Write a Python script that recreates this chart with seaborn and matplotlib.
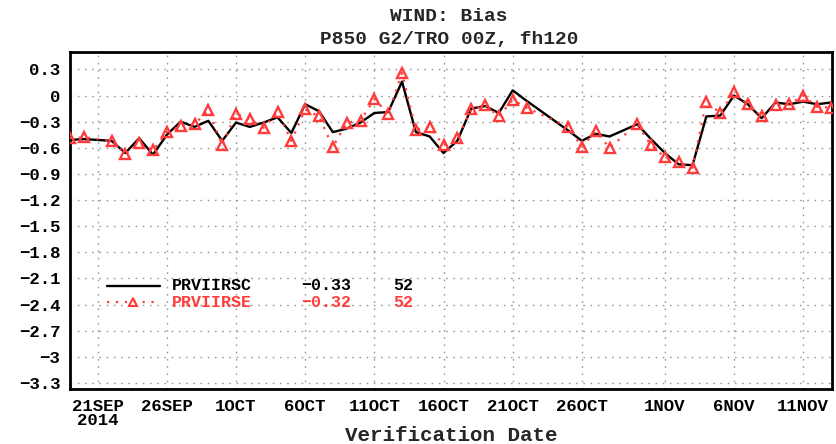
import matplotlib
matplotlib.use("Agg")
import matplotlib.pyplot as plt
from matplotlib.lines import Line2D
import pandas as pd
import seaborn as sns

# Verification dates (days with missing forecasts are skipped)
dates = [
    "2014-09-19", "2014-09-20", "2014-09-22", "2014-09-23", "2014-09-24",
    "2014-09-25", "2014-09-26", "2014-09-27", "2014-09-28", "2014-09-29",
    "2014-09-30", "2014-10-01", "2014-10-02", "2014-10-03", "2014-10-04",
    "2014-10-05", "2014-10-06", "2014-10-07", "2014-10-08", "2014-10-09",
    "2014-10-10", "2014-10-11", "2014-10-12", "2014-10-13", "2014-10-14",
    "2014-10-15", "2014-10-16", "2014-10-17", "2014-10-18", "2014-10-19",
    "2014-10-20", "2014-10-21", "2014-10-22", "2014-10-25", "2014-10-26",
    "2014-10-27", "2014-10-28", "2014-10-30", "2014-10-31", "2014-11-01",
    "2014-11-02", "2014-11-03", "2014-11-04", "2014-11-05", "2014-11-06",
    "2014-11-07", "2014-11-08", "2014-11-09", "2014-11-10", "2014-11-11",
    "2014-11-12", "2014-11-13",
]

# Wind bias at 850 hPa, tropics, fh120
bias_prviirsc = [
    -0.51, -0.50, -0.52, -0.66, -0.49, -0.68, -0.45, -0.30, -0.36, -0.29,
    -0.52, -0.31, -0.36, -0.31, -0.25, -0.43, -0.10, -0.18, -0.42, -0.38,
    -0.31, -0.20, -0.19, 0.16, -0.42, -0.47, -0.66, -0.52, -0.15, -0.12,
    -0.20, 0.06, -0.06, -0.40, -0.52, -0.44, -0.47, -0.33, -0.50, -0.66,
    -0.79, -0.80, -0.24, -0.23, 0.00, -0.10, -0.26, -0.08, -0.10, -0.07,
    -0.10, -0.08,
]
bias_prviirse = [
    -0.49, -0.48, -0.52, -0.67, -0.55, -0.63, -0.42, -0.35, -0.33, -0.17,
    -0.57, -0.21, -0.27, -0.37, -0.19, -0.52, -0.16, -0.24, -0.59, -0.31,
    -0.29, -0.04, -0.21, 0.26, -0.39, -0.36, -0.57, -0.49, -0.16, -0.11,
    -0.24, -0.05, -0.14, -0.36, -0.59, -0.41, -0.60, -0.33, -0.57, -0.71,
    -0.76, -0.83, -0.07, -0.20, 0.04, -0.10, -0.24, -0.11, -0.10, 0.00,
    -0.13, -0.14,
]

series_names = ["PRVIIRSC", "PRVIIRSE"]
series_means = [-0.33, -0.32]

tick_dates = ["2014-09-21", "2014-09-26", "2014-10-01", "2014-10-06",
              "2014-10-11", "2014-10-16", "2014-10-21", "2014-10-26",
              "2014-11-01", "2014-11-06", "2014-11-11"]
tick_labels = ["21SEP\n2014", "26SEP", "1OCT", "6OCT", "11OCT", "16OCT",
               "21OCT", "26OCT", "1NOV", "6NOV", "11NOV"]
y_ticks = [0.3, 0.0, -0.3, -0.6, -0.9, -1.2, -1.5, -1.8, -2.1, -2.4,
           -2.7, -3.0, -3.3]

RED = "#ff3b3b"
FONT = ["Liberation Mono", "DejaVu Sans Mono"]

sns.set_style("white")
plt.rcParams["font.family"] = FONT
plt.rcParams["font.weight"] = "bold"

df = pd.DataFrame({
    "date": pd.to_datetime(dates),
    "PRVIIRSC": bias_prviirsc,
    "PRVIIRSE": bias_prviirse,
})

fig = plt.figure(figsize=(8.36, 4.44), dpi=100)
ax = fig.add_axes([70 / 836, 1 - 389 / 444, 762 / 836, 337 / 444])

sns.lineplot(data=df, x="date", y="PRVIIRSC", ax=ax, color="black",
             linewidth=1.7, zorder=3)
sns.lineplot(data=df, x="date", y="PRVIIRSE", ax=ax, color=RED,
             linewidth=1.6, linestyle=(0, (1, 3)), marker="^",
             markersize=7, markerfacecolor="none", markeredgecolor=RED,
             markeredgewidth=1.7, zorder=4)

ax.set_xlim(pd.Timestamp("2014-09-19"), pd.Timestamp("2014-11-13 02:00"))
ax.set_ylim(-3.37, 0.5)

ax.set_yticks(y_ticks)
ax.set_yticklabels([f"{round(v, 1):g}".replace("-", "\u2212") for v in y_ticks])
ax.set_xticks(pd.to_datetime(tick_dates))
ax.set_xticklabels(tick_labels, linespacing=0.9)

ax.tick_params(axis="both", direction="out", length=5, width=1.2,
               colors="black", labelsize=12.5, pad=2)
ax.tick_params(axis="x", pad=2)
for lab in ax.get_xticklabels() + ax.get_yticklabels():
    lab.set_fontweight("bold")

ax.grid(True, color="#9a9a9a", linestyle=(0, (1.2, 4)), linewidth=1.0)
for sp in ax.spines.values():
    sp.set_linewidth(2)
    sp.set_color("black")

ax.set_xlabel("")
ax.set_ylabel("")
fig.text(0.54, 1 - 435 / 444, "Verification Date", ha="center", va="center",
         fontsize=15, fontweight="bold")

fig.text(0.537, 0.962, "WIND: Bias", ha="center", va="center",
         fontsize=14, fontweight="bold")
fig.text(0.537, 0.91, "P850 G2/TRO 00Z, fh120", ha="center", va="center",
         fontsize=14, fontweight="bold")

# Legend block with summary statistics
counts = [df[n].notna().sum() for n in series_names]
row_y = [0.306, 0.258]
colors = ["black", RED]
ax.add_line(Line2D([0.049, 0.118], [row_y[0], row_y[0]], transform=ax.transAxes,
                   color="black", linewidth=1.7))
ax.add_line(Line2D([0.049, 0.118], [row_y[1], row_y[1]], transform=ax.transAxes,
                   color=RED, linewidth=1.6, linestyle=(0, (1, 3))))
ax.add_line(Line2D([0.083], [row_y[1]], transform=ax.transAxes, marker="^",
                   markersize=6, markerfacecolor="none", markeredgecolor=RED,
                   markeredgewidth=1.5, linestyle="none"))
for name, mean, n, yy, c in zip(series_names, series_means, counts, row_y, colors):
    ax.text(0.134, yy, name, transform=ax.transAxes, color=c, fontsize=12,
            fontweight="bold", va="center", ha="left")
    ax.text(0.304, yy, f"{mean:.2f}".replace("-", "\u2212"),
            transform=ax.transAxes, color=c, fontsize=12, fontweight="bold",
            va="center", ha="left")
    ax.text(0.424, yy, f"{n}", transform=ax.transAxes, color=c, fontsize=12,
            fontweight="bold", va="center", ha="left")

fig.savefig("out.png", dpi=100)
